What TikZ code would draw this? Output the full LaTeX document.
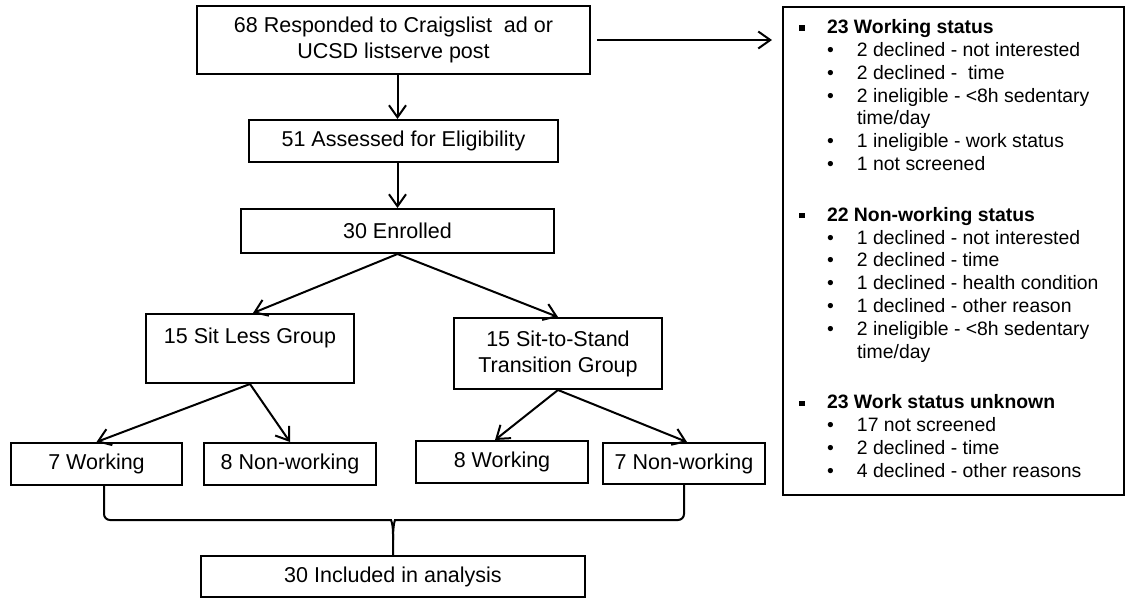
\documentclass[tikz,border=0pt]{standalone}
\usepackage{fontspec}
\setmainfont{Liberation Sans}
\usetikzlibrary{arrows.meta}
\newcommand{\sqbul}{\rule[1.6pt]{2.6pt}{2.6pt}}

\begin{document}
\begin{tikzpicture}[x=0.5pt, y=-0.5pt, line width=1pt,
        box/.style={draw, rectangle, inner sep=0pt, align=center, font=\fontsize{10.75}{13}\selectfont},
        listbox/.style={draw, rectangle, inner sep=0pt, font=\fontsize{9.7}{11.4}\selectfont},
        arr/.style={-{Straight Barb[length=6pt, width=8.5pt]}}]
        \useasboundingbox (0,0) rectangle (1126,601);

        \node[box, minimum width=196.5pt, minimum height=34pt] (Resp) at (393.5,40) {68 Responded to Craigslist~ ad or\\UCSD listserve post};
        \node[box, minimum width=154.5pt, minimum height=21pt] (Assess) at (403.5,141) {51 Assessed for Eligibility};
        \node[box, minimum width=156.5pt, minimum height=22pt] (Enrol) at (397.5,231) {30 Enrolled};
        \node[box, minimum width=104pt, minimum height=34.5pt] (SitLess) at (250,348.5) {15 Sit Less Group\\\mbox{}};
        \node[box, minimum width=104pt, minimum height=35.5pt] (SitStand) at (558,353.5) {15 Sit-to-Stand\\Transition Group};
        \node[box, minimum width=85.5pt, minimum height=21pt] (W7) at (96.5,464) {7 Working};
        \node[box, minimum width=86pt, minimum height=21pt] (NW8) at (290,464) {8 Non-working};
        \node[box, minimum width=86pt, minimum height=21pt] (W8) at (502,462) {8 Working};
        \node[box, minimum width=81pt, minimum height=20.5pt] (NW7) at (684,463.5) {7 Non-working};
        \node[box, minimum width=192pt, minimum height=20.5pt] (Incl) at (393,576.5) {30 Included in analysis};

        \node[listbox, minimum width=170.5pt, minimum height=244pt] (Excl) at (953.5,251) {%
            \begin{tabular}{@{\hspace{8.2pt}}p{13.8pt}@{}p{15pt}@{}p{133.5pt}@{}}
            \sqbul & \multicolumn{2}{@{}l@{}}{\textbf{23 Working status}}\\
             & \textbullet & 2 declined - not interested\\
             & \textbullet & 2 declined -~ time\\
             & \textbullet & 2 ineligible - <8h sedentary\\
             & & time/day\\
             & \textbullet & 1 ineligible - work status\\
             & \textbullet & 1 not screened\\[14pt]
            \sqbul & \multicolumn{2}{@{}l@{}}{\textbf{22 Non-working status}}\\
             & \textbullet & 1 declined - not interested\\
             & \textbullet & 2 declined - time\\
             & \textbullet & 1 declined - health condition\\
             & \textbullet & 1 declined - other reason\\
             & \textbullet & 2 ineligible - <8h sedentary\\
             & & time/day\\[14pt]
            \sqbul & \multicolumn{2}{@{}l@{}}{\textbf{23 Work status unknown}}\\
             & \textbullet & 17 not screened\\
             & \textbullet & 2 declined - time\\
             & \textbullet & 4 declined - other reasons
            \end{tabular}};

        \draw[arr] (Resp.south -| Enrol.north) -- (Assess.north -| Enrol.north);
        \draw[arr] (Assess.south -| Enrol.north) -- (Enrol.north);
        \draw[arr, shorten <=3pt, shorten >=5pt] (Resp.east) -- (Resp.east -| Excl.west);
        \draw[arr] (Enrol.south) -- ([xshift=1.5pt]SitLess.north);
        \draw[arr] (Enrol.south) -- (SitStand.north);
        \draw[arr] (SitLess.south) -- (W7.north);
        \draw[arr] (SitLess.south) -- (NW8.north);
        \draw[arr] (SitStand.south) -- ([xshift=-3.5pt]W8.north);
        \draw[arr] (SitStand.south) -- ([xshift=1.5pt]NW7.north);

        % bracket joining the four groups
        \coordinate (cusp) at (393,540);
        \draw[rounded corners=3pt] ([xshift=3.75pt]W7.south) |- (385,520) .. controls (391,520) and (393,524) .. (cusp) -- (Incl.north);
        \draw[rounded corners=3pt] (NW7.south) |- (401,520) .. controls (395,520) and (393,524) .. (cusp);
    \end{tikzpicture}
\end{document}
